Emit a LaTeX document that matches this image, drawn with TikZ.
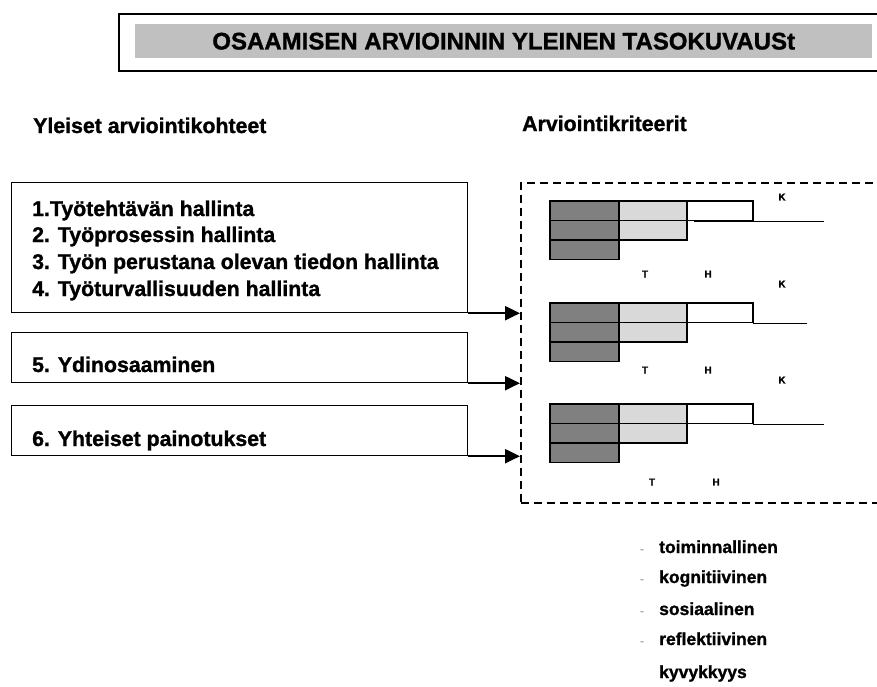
\documentclass[tikz,border=0pt]{standalone}
\usepackage{fontspec}
\setmainfont{Liberation Sans}[BoldFeatures={FakeBold=1.2}]
\usetikzlibrary{arrows.meta}
\definecolor{tumma}{HTML}{808080}
\definecolor{vaalea}{HTML}{D9D9D9}
\definecolor{palkinharmaa}{HTML}{C0C0C0}

\begin{document}
\begin{tikzpicture}[x=1pt,y=-1pt,kohde/.style={draw,line width=1.2pt,anchor=north west,inner sep=0pt},teksti/.style={anchor=base west,inner sep=0pt,font=\fontsize{21.3}{25}\selectfont\bfseries},osa/.style={draw,line width=1.3pt},nuoli/.style={line width=2.2pt,-{Triangle[length=15pt,width=14pt]}},taso/.style={inner sep=0pt,font=\fontsize{10}{12}\selectfont\bfseries},luettelo/.style={anchor=base west,inner sep=0pt,font=\fontsize{17.5}{20}\selectfont\bfseries}]
\useasboundingbox (0,0) rectangle (877,686);
\clip (0,0) rectangle (877,686);
% otsikko
\node[draw,line width=1.5pt,anchor=north west,minimum width=770pt,minimum height=57pt,inner sep=0pt] (kehys) at (118,13) {};
\node[fill=palkinharmaa,anchor=north west,minimum width=737pt,minimum height=34pt,inner sep=0pt] (palkki) at (135,24) {};
\node[inner sep=0pt,font=\fontsize{24}{28}\selectfont\bfseries] (otsikko) at (palkki.center) {OSAAMISEN ARVIOINNIN YLEINEN TASOKUVAUSt};
\node[teksti] (kohteet) at (33,133) {Yleiset arviointikohteet};
\node[teksti] (kriteerit otsikko) at (522,131) {Arviointikriteerit};
% arviointikohteet
\node[kohde,minimum width=456pt,minimum height=130pt] (b1) at (11,182) {};
\node[kohde,minimum width=456pt,minimum height=50pt] (b2) at (11,332) {};
\node[kohde,minimum width=456pt,minimum height=50pt] (b3) at (11,405) {};
\foreach \rivi/\y [count=\i] in {1.Työtehtävän hallinta/216,2. Työprosessin hallinta/242,3. Työn perustana olevan tiedon hallinta/269,4. Työturvallisuuden hallinta/296}
  \node[teksti] (r\i) at (32,\y) {\rivi};
\node[teksti] (r5) at (32,372) {5. Ydinosaaminen};
\node[teksti] (r6) at (32,446) {6. Yhteiset painotukset};
% kriteerit
\node[draw,line width=1.6pt,dash pattern=on 8pt off 5pt,anchor=north west,minimum width=380pt,minimum height=320pt,inner sep=0pt] (kriteerit) at (520,182) {};
\draw[nuoli] (b1.south east) -- (b1.south east -| kriteerit.west);
\draw[nuoli] (b2.south east) -- (b2.south east -| kriteerit.west);
\draw[nuoli] (b3.south east) -- (b3.south east -| kriteerit.west);
\foreach \yla/\alku/\loppu in {201/694/824,303/753/807,404/753/824}{
  \draw[osa,fill=tumma] (550,\yla) rectangle ++(69,19.5) rectangle ++(-69,19.5) rectangle ++(69,19.5);
  \draw[osa,fill=vaalea] (619,\yla) rectangle ++(68,19.5) rectangle ++(-68,19.5);
  \draw[osa,fill=white] (687,\yla) rectangle ++(66,19.5);
  \draw[line width=1.4pt] (\alku,{\yla+20.5}) -- (\loppu,{\yla+20.5});
}
\foreach \kirjain/\x/\y [count=\i] in {K/782/197,T/645/274,H/708/274,K/782/284,T/645/370,H/708/370,K/782/380,T/652/482,H/716/482}
  \node[taso] (taso\i) at (\x,\y) {\kirjain};
% kyvykkyys
\foreach \sana/\y [count=\i] in {toiminnallinen/553,kognitiivinen/583,sosiaalinen/615,reflektiivinen/645}{
  \node[anchor=base west,inner sep=0pt,text=gray,font=\fontsize{12}{14}\selectfont] (v\i) at (640,\y) {-};
  \node[luettelo] (s\i) at (659,\y) {\sana};
}
\node[luettelo] (s5) at (659,678) {kyvykkyys};
\end{tikzpicture}
\end{document}
